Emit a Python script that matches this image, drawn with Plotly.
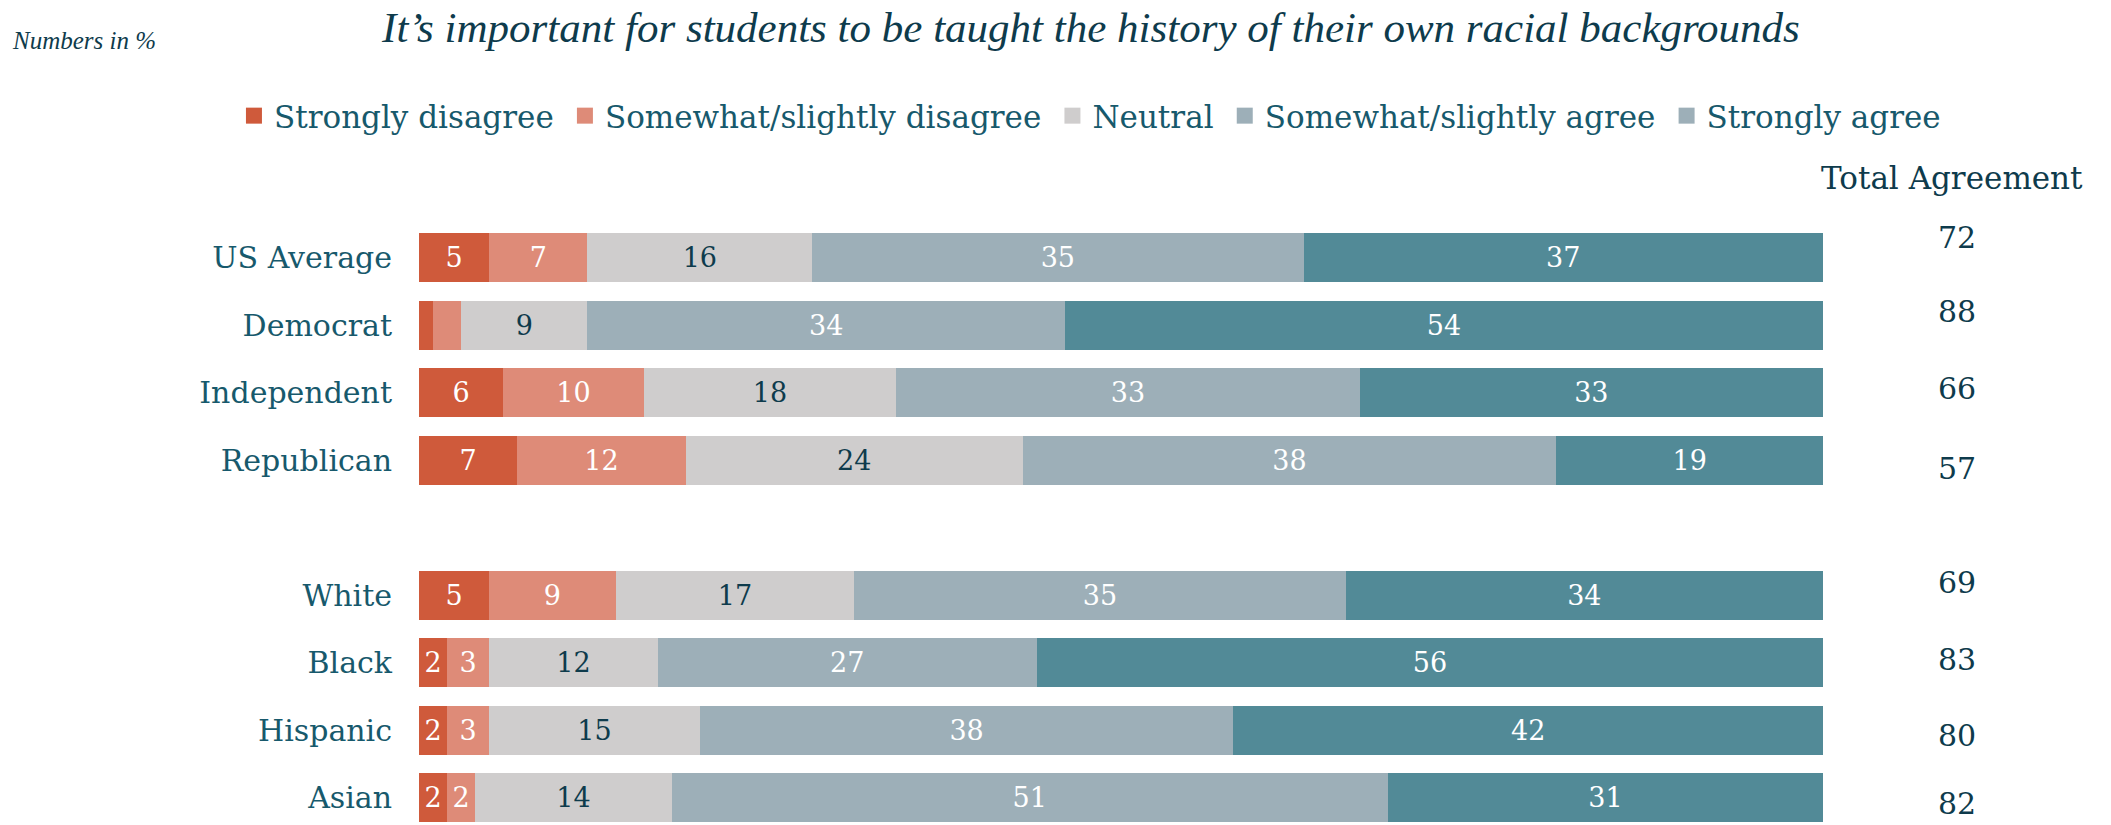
import plotly.graph_objects as go

categories = ["US Average", "Democrat", "Independent", "Republican", " ",
              "White", "Black", "Hispanic", "Asian"]
series_names = ["Strongly disagree", "Somewhat/slightly disagree", "Neutral",
                "Somewhat/slightly agree", "Strongly agree"]
strongly_disagree = [5, 1, 6, 7, None, 5, 2, 2, 2]
somewhat_disagree = [7, 2, 10, 12, None, 9, 3, 3, 2]
neutral = [16, 9, 18, 24, None, 17, 12, 15, 14]
somewhat_agree = [35, 34, 33, 38, None, 35, 27, 38, 51]
strongly_agree = [37, 54, 33, 19, None, 34, 56, 42, 31]
total_agreement = [72, 88, 66, 57, None, 69, 83, 80, 82]
# segment labels not printed in the reference (Democrat's two small disagree segments)
hidden_labels = {("Democrat", 0), ("Democrat", 1)}

# styling: vertical nudges (px) of the "Total Agreement" labels, as laid out in the reference
total_label_yshift_px = [20, 14, 4, -8, 0, 13, 3, -5, -6]

series_values = [strongly_disagree, somewhat_disagree, neutral, somewhat_agree, strongly_agree]
bar_colors = ["#CF5A3B", "#DE8B78", "#CFCDCD", "#9DAFB8", "#528A97"]
legend_colors = ["#CF5A3B", "#DE8B78", "#CFCDCD", "#9DAFB8", "#9DAFB8"]
label_colors = ["#FFFFFF", "#FFFFFF", "#0E3B4C", "#FFFFFF", "#FFFFFF"]

DARK = "#0E3B4C"
TEAL = "#17596C"
SERIF = "DejaVu Serif"

fig = go.Figure()
for i, (name, vals) in enumerate(zip(series_names, series_values)):
    texts = []
    for cat, v in zip(categories, vals):
        if v is None or (cat, i) in hidden_labels:
            texts.append("")
        else:
            texts.append(str(v))
    fig.add_trace(go.Bar(
        name=name, y=categories, x=vals, orientation="h",
        marker=dict(color=bar_colors[i], line=dict(width=0)),
        text=texts, textposition="inside", insidetextanchor="middle",
        textangle=0, constraintext="none",
        insidetextfont=dict(family=SERIF, size=27, color=label_colors[i]),
        showlegend=False, hoverinfo="x+name",
    ))

for i, name in enumerate(series_names):
    fig.add_trace(go.Scatter(
        x=[None], y=[None], mode="markers", name=name + "\u2009",
        marker=dict(symbol="square", size=16, color=legend_colors[i]),
        showlegend=True, hoverinfo="skip",
    ))

for cat, t, dy in zip(categories, total_agreement, total_label_yshift_px):
    if t is None:
        continue
    fig.add_annotation(x=1.0954, y=cat, xref="paper", yref="y", text=str(t),
                       showarrow=False, xanchor="center", yanchor="middle", yshift=dy,
                       font=dict(family=SERIF, size=30, color=DARK))

fig.add_annotation(x=1.0919, y=1.0765, xref="paper", yref="paper",
                   text="Total Agreement", showarrow=False,
                   xanchor="center", yanchor="middle",
                   font=dict(family=SERIF, size=31, color=DARK))

fig.add_annotation(x=-0.2915, y=1.305, xref="paper", yref="paper",
                   text="<i>Numbers in %</i>", showarrow=False,
                   xanchor="left", yanchor="middle",
                   font=dict(family="Liberation Serif", size=25, color=DARK))

fig.update_layout(
    width=2111, height=825,
    margin=dict(l=419, r=288, t=224, b=0, pad=0),
    paper_bgcolor="white", plot_bgcolor="white",
    barmode="stack", bargap=0.28,
    title=dict(text="<i>It’s important for students to be taught the history of their own racial backgrounds</i>",
               x=0.5168, xanchor="center", y=1 - 27 / 825, yanchor="middle",
               font=dict(family="Liberation Serif", size=43, color=DARK)),
    legend=dict(orientation="h", xref="paper", yref="paper", traceorder="normal",
                x=-0.1318, xanchor="left", y=1.1797, yanchor="middle",
                font=dict(family=SERIF, size=31, color=TEAL),
                itemclick=False, itemdoubleclick=False, bgcolor="rgba(0,0,0,0)"),
    xaxis=dict(range=[0, 100], visible=False, fixedrange=True),
    yaxis=dict(categoryorder="array", categoryarray=categories,
               range=[8.404, -0.5], showgrid=False, zeroline=False, showline=False,
               ticks="", ticklabelstandoff=26,
               tickfont=dict(family=SERIF, size=30, color=TEAL), fixedrange=True),
)

fig.write_html("out.html", config={"displayModeBar": False},
               post_script="document.body.style.margin='0';document.body.style.overflow='hidden';")
